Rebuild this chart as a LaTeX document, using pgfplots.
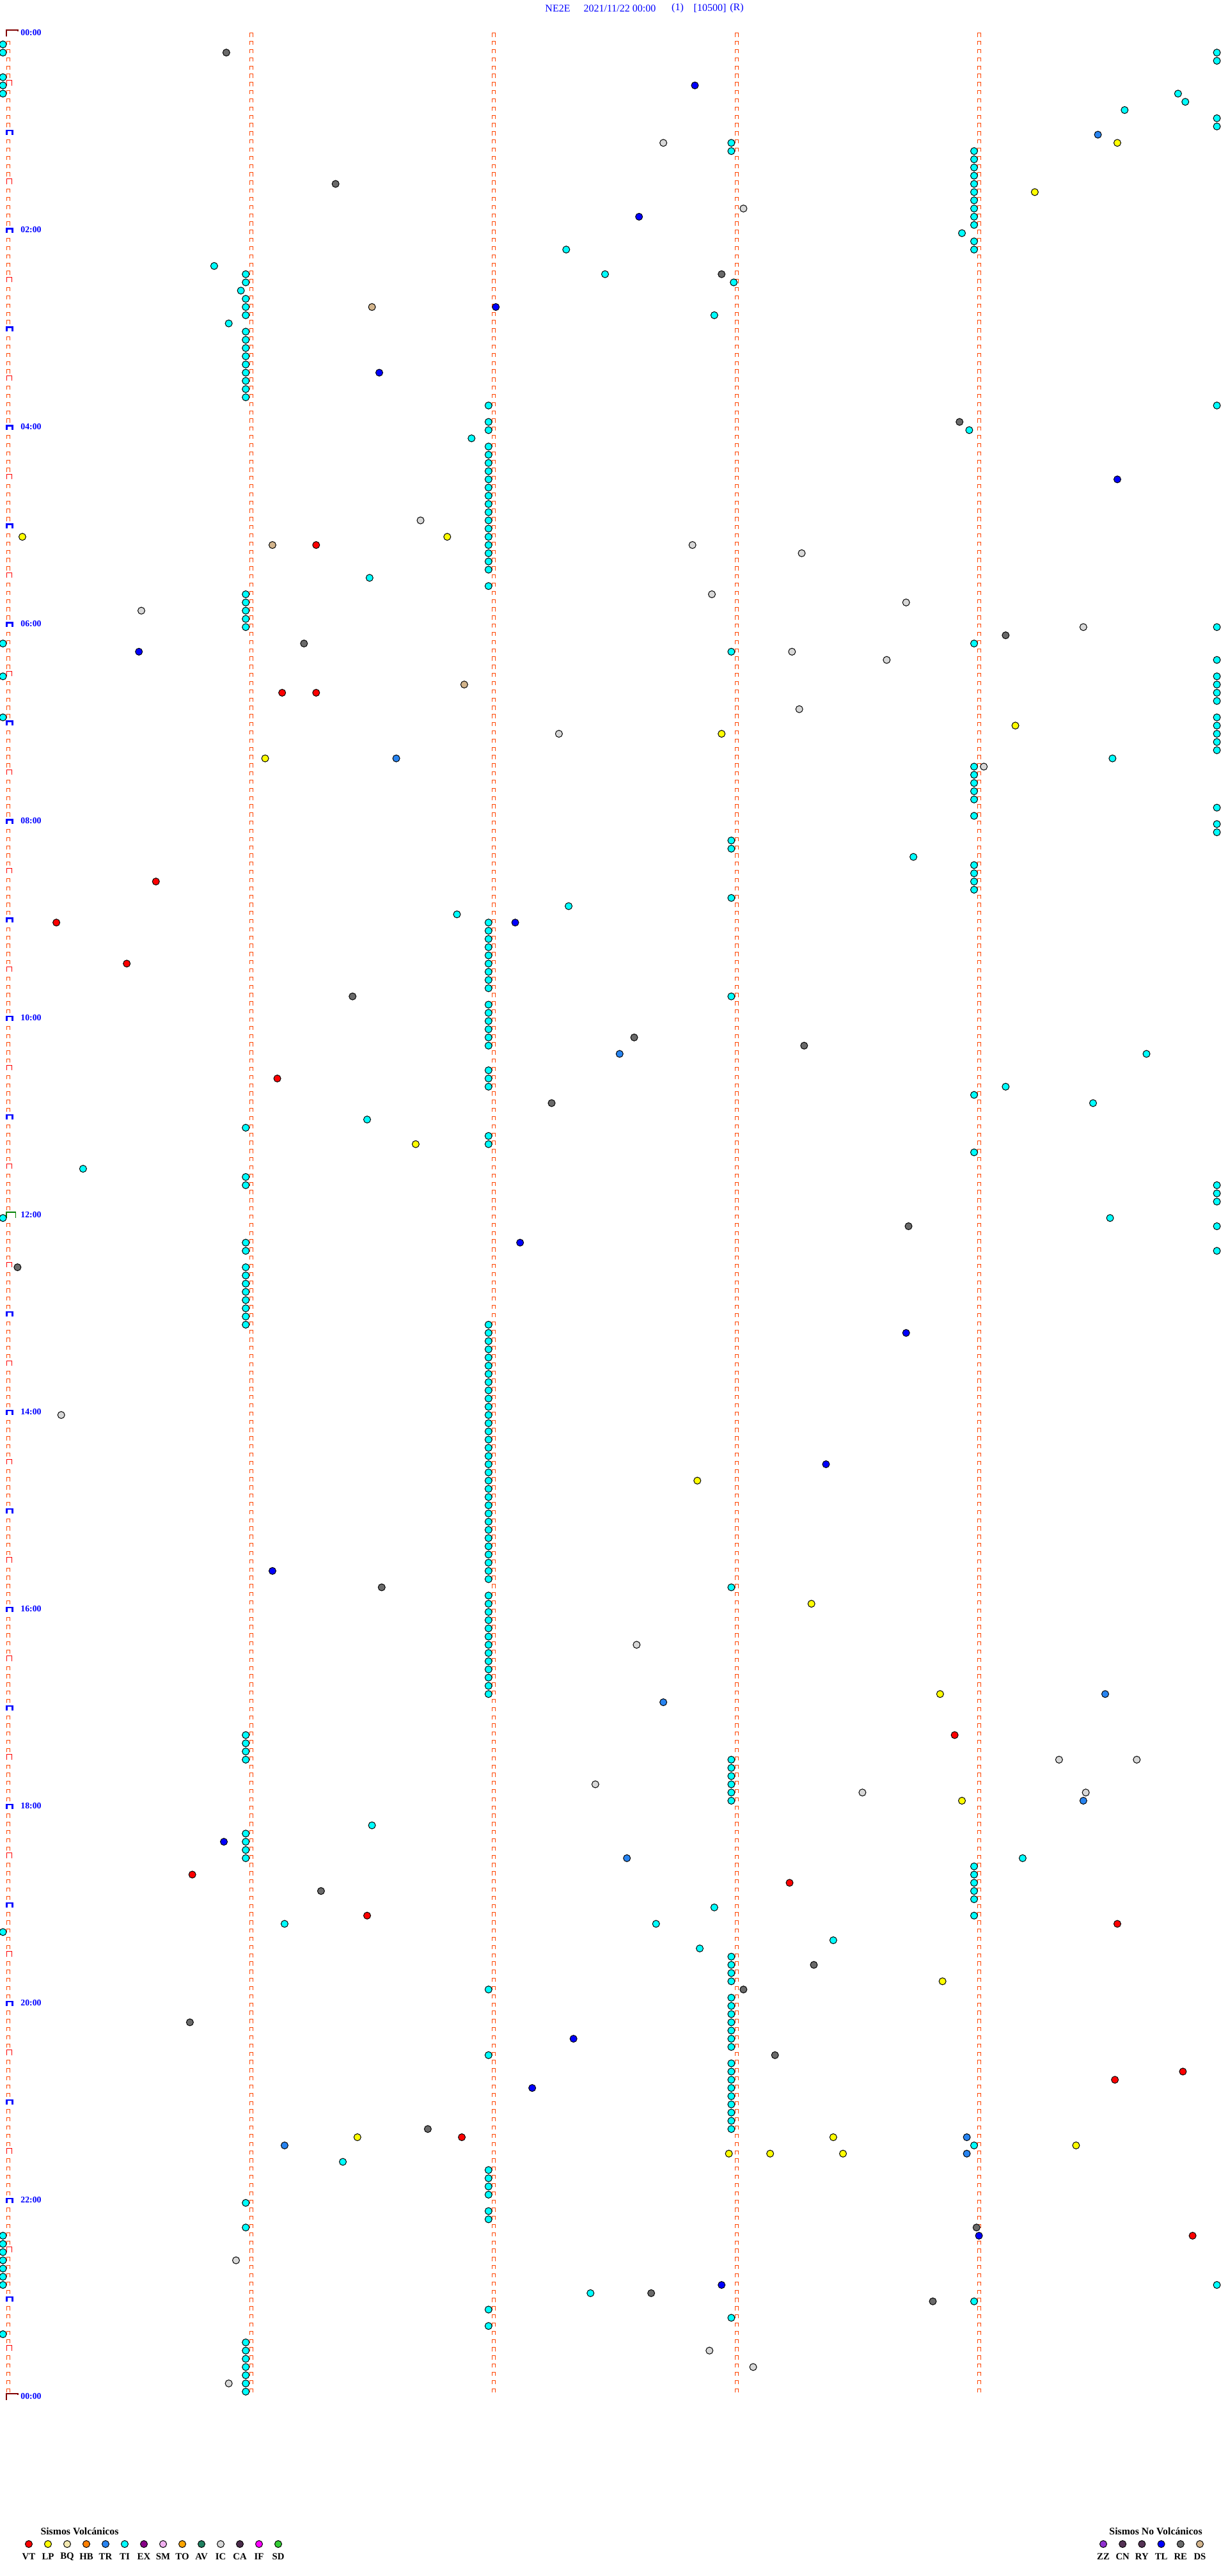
\documentclass[border=0pt]{standalone}
\usepackage{fontspec}
\setmainfont{Liberation Serif}
\usepackage{pgfplots}
\pgfplotsset{compat=1.18}
\definecolor{gridc}{HTML}{FF4500}
\definecolor{cVT}{HTML}{FF0000}
\definecolor{cLP}{HTML}{FFFF00}
\definecolor{cBQ}{HTML}{F3E9B0}
\definecolor{cHB}{HTML}{FF8000}
\definecolor{cTR}{HTML}{2884F0}
\definecolor{cTI}{HTML}{00FFFF}
\definecolor{cEX}{HTML}{880088}
\definecolor{cSM}{HTML}{F0B0F0}
\definecolor{cTO}{HTML}{FFA500}
\definecolor{cAV}{HTML}{208060}
\definecolor{cIC}{HTML}{D8D8D8}
\definecolor{cCA}{HTML}{4B2C4B}
\definecolor{cIF}{HTML}{FF00FF}
\definecolor{cSD}{HTML}{33CC33}
\definecolor{cZZ}{HTML}{9030D0}
\definecolor{cCN}{HTML}{553355}
\definecolor{cRY}{HTML}{553355}
\definecolor{cTL}{HTML}{0000FF}
\definecolor{cRE}{HTML}{6A6A6A}
\definecolor{cDS}{HTML}{D2B48C}
\definecolor{darkred}{HTML}{800000}
\definecolor{lblue}{HTML}{0000FF}
\definecolor{hgreen}{HTML}{008000}
\pgfplotsset{
  ev/.style={only marks, mark=*, mark size=2.75pt, mark options={draw=black, line width=0.5pt, fill=#1}},
  lg/.style={only marks, mark=*, mark size=2.75pt, mark options={draw=black, line width=0.5pt, fill=#1}},
}
\begin{document}
\begin{tikzpicture}
% x: minute within the 5-minute line; y: start of the line, minutes after 00:00
\begin{axis}[at={(0pt,0pt)}, anchor=north west,
  x=189.8pt, y=1.283pt, y dir=reverse,
  xmin=-0.03214, xmax=5.02582, ymin=-22.02, ymax=1547.35,
  axis line style={draw=none}, tick style={draw=none},
  xtick=\empty,
  ytick={0,120,...,1440},
  yticklabels={00:00,02:00,04:00,06:00,08:00,10:00,12:00,14:00,16:00,18:00,20:00,22:00,00:00},
  yticklabel style={anchor=west, inner sep=0pt, xshift=16pt, yshift=2.6pt,
    font=\bfseries\fontsize{6.9pt}{8pt}\selectfont, text=lblue},
  clip=false]
% minute marks of every line
\pgfplotsinvokeforeach{0,1,2,3,4}{
  \draw[gridc, line width=0.5pt, dash pattern=on 3.15pt off 3.265pt] ([xshift=-0.85pt]axis cs:#1,-2.03) -- ([xshift=-0.85pt]axis cs:#1,1436);
  \draw[gridc, line width=0.5pt, dash pattern=on 3.15pt off 3.265pt] ([xshift=1.65pt]axis cs:#1,-2.03) -- ([xshift=1.65pt]axis cs:#1,1436);
  \draw[gridc, line width=3pt, dash pattern=on 0.5pt off 5.915pt] ([xshift=0.4pt]axis cs:#1,-2.03) -- ([xshift=0.4pt]axis cs:#1,1436);
}
% half hours
\pgfplotsinvokeforeach{30,90,...,1410}{
  \fill[white] ([xshift=-1.3pt,yshift=-0.7pt]axis cs:0,#1) rectangle ([xshift=2.1pt,yshift=2.8pt]axis cs:0,#1);
  \draw[red, line width=0.5pt] ([xshift=-0.85pt]axis cs:0,#1) -- ([xshift=-0.85pt,yshift=4pt]axis cs:0,#1)
     -- ([xshift=3pt,yshift=4pt]axis cs:0,#1) -- ([xshift=3pt]axis cs:0,#1);
}
% hours
\pgfplotsinvokeforeach{60,120,...,660,780,840,...,1380}{
  \fill[white] ([xshift=-1.3pt,yshift=-0.7pt]axis cs:0,#1) rectangle ([xshift=2.1pt,yshift=2.8pt]axis cs:0,#1);
  \draw[lblue, line width=1.15pt] ([xshift=-0.9pt]axis cs:0,#1) -- ([xshift=-0.9pt,yshift=3.43pt]axis cs:0,#1)
     -- ([xshift=3.65pt,yshift=3.43pt]axis cs:0,#1) -- ([xshift=3.65pt]axis cs:0,#1);
}
% noon
\fill[white] ([xshift=-1.3pt,yshift=-0.7pt]axis cs:0,720) rectangle ([xshift=2.1pt,yshift=2.8pt]axis cs:0,720);
\draw[hgreen, line width=0.85pt] ([xshift=-1.05pt]axis cs:0,720) -- ([xshift=-1.05pt,yshift=4.58pt]axis cs:0,720)
   -- ([xshift=6.1pt,yshift=4.58pt]axis cs:0,720) -- ([xshift=6.1pt]axis cs:0,720);
% start and end of the day
\pgfplotsinvokeforeach{0,1440}{
  \fill[white] ([xshift=-1.3pt,yshift=-0.7pt]axis cs:0,#1) rectangle ([xshift=2.1pt,yshift=2.8pt]axis cs:0,#1);
  \draw[darkred, line width=1pt] ([xshift=-1pt,yshift=-0.25pt]axis cs:0,#1) -- ([xshift=-1pt,yshift=4.75pt]axis cs:0,#1)
     -- ([xshift=8pt,yshift=4.75pt]axis cs:0,#1) -- ([xshift=8pt,yshift=3.75pt]axis cs:0,#1);
}
% TI
\addplot[ev=cTI] coordinates {
(-0.02,5) (-0.02,10) (-0.02,25) (-0.02,30) (-0.02,35) (-0.02,370) (-0.02,390) (-0.02,415) (-0.02,720) (-0.02,1155)
(-0.02,1340) (-0.02,1345) (-0.02,1350) (-0.02,1355) (-0.02,1360) (-0.02,1365) (-0.02,1370) (-0.02,1400)
(4.98,10) (4.98,15) (4.98,50) (4.98,55) (4.98,225) (4.98,360) (4.98,380) (4.98,390) (4.98,395) (4.98,400) (4.98,405)
(4.98,415) (4.98,420) (4.98,425) (4.98,430) (4.98,435) (4.98,470) (4.98,480) (4.98,485) (4.98,700) (4.98,705) (4.98,710)
(4.98,725) (4.98,740) (4.98,1370) (4.82,35) (4.85,40) (4.60,45)
(2.98,65) (2.98,70) (2.99,150) (2.98,375) (2.98,490) (2.98,495) (2.98,525) (2.98,585) (2.98,945)
(2.98,1050) (2.98,1055) (2.98,1060) (2.98,1065) (2.98,1070) (2.98,1075)
(2.98,1170) (2.98,1175) (2.98,1180) (2.98,1185) (2.98,1195) (2.98,1200) (2.98,1205) (2.98,1210) (2.98,1215) (2.98,1220) (2.98,1225)
(2.98,1235) (2.98,1240) (2.98,1245) (2.98,1250) (2.98,1255) (2.98,1260) (2.98,1265) (2.98,1270) (2.98,1275) (2.98,1390)
(3.98,70) (3.98,75) (3.98,80) (3.98,85) (3.98,90) (3.98,95) (3.98,100) (3.98,105) (3.98,110) (3.98,115) (3.93,120) (3.98,125) (3.98,130)
(3.96,240) (3.98,370) (3.98,445) (3.98,450) (3.98,455) (3.98,460) (3.98,465) (3.98,475) (3.98,505) (3.98,510) (3.98,515) (3.98,520)
(3.98,645) (3.98,680) (3.98,1115) (3.98,1120) (3.98,1125) (3.98,1130) (3.98,1135) (3.98,1145) (3.98,1285) (3.98,1380)
(1.98,225) (1.98,235) (1.98,240) (1.91,245) (1.98,250) (1.98,255) (1.98,260) (1.98,265) (1.98,270) (1.98,275) (1.98,280) (1.98,285)
(1.98,290) (1.98,295) (1.98,300) (1.98,305) (1.98,310) (1.98,315) (1.98,320) (1.98,325) (1.98,335)
(1.98,540) (1.98,545) (1.98,550) (1.98,555) (1.98,560) (1.98,565) (1.98,570) (1.98,575) (1.98,580)
(1.98,590) (1.98,595) (1.98,600) (1.98,605) (1.98,610) (1.98,615) (1.98,630) (1.98,635) (1.98,640) (1.98,670) (1.98,675)
(1.98,785) (1.98,790) (1.98,795) (1.98,800) (1.98,805) (1.98,810) (1.98,815) (1.98,820) (1.98,825) (1.98,830) (1.98,835)
(1.98,840) (1.98,845) (1.98,850) (1.98,855) (1.98,860) (1.98,865) (1.98,870) (1.98,875) (1.98,880) (1.98,885) (1.98,890)
(1.98,895) (1.98,900) (1.98,905) (1.98,910) (1.98,915) (1.98,920) (1.98,925) (1.98,930) (1.98,935) (1.98,940)
(1.98,950) (1.98,955) (1.98,960) (1.98,965) (1.98,970) (1.98,975) (1.98,980) (1.98,985) (1.98,990) (1.98,995) (1.98,1000)
(1.98,1005) (1.98,1010) (1.98,1190) (1.98,1230) (1.98,1300) (1.98,1305) (1.98,1310) (1.98,1315) (1.98,1325) (1.98,1330)
(1.98,1385) (1.98,1395)
(0.85,140) (0.98,145) (0.98,150) (0.96,155) (0.98,160) (0.98,165) (0.98,170) (0.91,175) (0.98,180) (0.98,185) (0.98,190)
(0.98,195) (0.98,200) (0.98,205) (0.98,210) (0.98,215) (0.98,220) (0.98,340) (0.98,345) (0.98,350) (0.98,355) (0.98,360)
(0.98,665) (0.98,695) (0.98,700) (0.98,735) (0.98,740) (0.98,750) (0.98,755) (0.98,760) (0.98,765) (0.98,770) (0.98,775)
(0.98,780) (0.98,785) (0.98,1035) (0.98,1040) (0.98,1045) (0.98,1050) (0.98,1095) (0.98,1100) (0.98,1105) (0.98,1110)
(0.98,1320) (0.98,1335) (0.98,1405) (0.98,1410) (0.98,1415) (0.98,1420) (0.98,1425) (0.98,1430) (0.98,1435)
(2.30,130) (2.46,145) (2.91,170) (1.49,330) (4.55,440) (3.73,500) (2.31,530) (1.85,535) (4.69,620) (4.11,640)
(4.47,650) (1.48,660) (0.31,690) (4.54,720) (1.50,1090) (4.18,1110) (2.91,1140) (1.14,1150) (2.67,1150) (3.40,1160)
(2.85,1165) (1.38,1295) (2.40,1375)
};
% RE
\addplot[ev=cRE] coordinates {
(0.90,10) (1.35,90) (2.94,145) (3.92,235) (4.11,365) (1.22,370) (1.42,585) (2.58,610) (3.28,615) (2.24,650) (3.71,725)
(0.04,750) (1.54,945) (1.29,1130) (3.32,1175) (3.03,1190) (0.75,1210) (3.16,1230) (1.73,1275) (3.99,1335) (2.65,1375) (3.81,1380)
};
% TL
\addplot[ev=cTL] coordinates {
(2.83,30) (2.60,110) (2.01,165) (1.53,205) (4.57,270) (0.54,375) (2.09,540) (2.11,735) (3.70,790) (3.37,870) (1.09,935)
(0.89,1100) (2.33,1220) (2.16,1250) (4.00,1340) (2.94,1370)
};
% IC
\addplot[ev=cIC] coordinates {
(2.70,65) (3.03,105) (1.70,295) (2.82,310) (3.27,315) (2.90,340) (3.70,345) (0.55,350) (4.43,360) (3.23,375) (3.62,380)
(3.26,410) (2.27,425) (4.02,445) (0.22,840) (2.59,980) (4.33,1050) (4.65,1050) (2.42,1065) (3.52,1070) (4.44,1070)
(0.94,1355) (2.89,1410) (3.07,1420) (0.91,1430)
};
% LP
\addplot[ev=cLP] coordinates {
(4.57,65) (4.23,95) (0.06,305) (1.81,305) (4.15,420) (2.94,425) (1.06,440) (1.68,675) (2.84,880) (3.31,955) (3.84,1010)
(3.93,1075) (3.85,1185) (1.44,1280) (3.40,1280) (4.40,1285) (2.97,1290) (3.14,1290) (3.44,1290)
};
% VT
\addplot[ev=cVT] coordinates {
(1.27,310) (1.13,400) (1.27,400) (0.61,515) (0.20,540) (0.49,565) (1.11,635) (3.90,1035) (0.76,1120) (3.22,1125)
(1.48,1145) (4.57,1150) (4.84,1240) (4.56,1245) (1.87,1280) (4.88,1340)
};
% DS
\addplot[ev=cDS] coordinates {(1.50,165) (1.09,310) (1.88,395)};
% TR
\addplot[ev=cTR] coordinates {
(4.49,60) (1.60,440) (2.52,620) (4.52,1010) (2.70,1015) (4.43,1075) (2.55,1110) (3.95,1280) (1.14,1285) (3.95,1290)
};
\end{axis}
% legend: volcanic events
\begin{axis}[at={(22.5pt,-1988.5pt)}, anchor=origin,
  x=15pt, y=10pt, xmin=-0.6, xmax=13.6, ymin=-1, ymax=1,
  axis line style={draw=none}, tick style={draw=none}, ytick=\empty,
  xtick={0,...,13},
  xticklabels={VT,LP,BQ,HB,TR,TI,EX,SM,TO,AV,IC,CA,IF,SD},
  xticklabel style={anchor=center, inner sep=0pt, font=\bfseries\fontsize{7.4pt}{8pt}\selectfont},
  title={Sismos Volcánicos},
  title style={at={(0.2289,1)}, anchor=center, inner sep=0pt, yshift=-6pt, font=\bfseries\fontsize{7.9pt}{9pt}\selectfont},
  clip=false]
\addplot[lg=cVT] coordinates {(0,0)};
\addplot[lg=cLP] coordinates {(1,0)};
\addplot[lg=cBQ] coordinates {(2,0)};
\addplot[lg=cHB] coordinates {(3,0)};
\addplot[lg=cTR] coordinates {(4,0)};
\addplot[lg=cTI] coordinates {(5,0)};
\addplot[lg=cEX] coordinates {(6,0)};
\addplot[lg=cSM] coordinates {(7,0)};
\addplot[lg=cTO] coordinates {(8,0)};
\addplot[lg=cAV] coordinates {(9,0)};
\addplot[lg=cIC] coordinates {(10,0)};
\addplot[lg=cCA] coordinates {(11,0)};
\addplot[lg=cIF] coordinates {(12,0)};
\addplot[lg=cSD] coordinates {(13,0)};
\end{axis}
% legend: non-volcanic events
\begin{axis}[at={(862.5pt,-1988.5pt)}, anchor=origin,
  x=15.1pt, y=10pt, xmin=-0.6, xmax=5.6, ymin=-1, ymax=1,
  axis line style={draw=none}, tick style={draw=none}, ytick=\empty,
  xtick={0,...,5},
  xticklabels={ZZ,CN,RY,TL,RE,DS},
  xticklabel style={anchor=center, inner sep=0pt, font=\bfseries\fontsize{7.4pt}{8pt}\selectfont},
  title={Sismos No Volcánicos},
  title style={at={(0.535,1)}, anchor=center, inner sep=0pt, yshift=-6pt, font=\bfseries\fontsize{7.9pt}{9pt}\selectfont},
  clip=false]
\addplot[lg=cZZ] coordinates {(0,0)};
\addplot[lg=cCN] coordinates {(1,0)};
\addplot[lg=cRY] coordinates {(2,0)};
\addplot[lg=cTL] coordinates {(3,0)};
\addplot[lg=cRE] coordinates {(4,0)};
\addplot[lg=cDS] coordinates {(5,0)};
\end{axis}
\begin{scope}[x=0.5pt, y=-0.5pt]
\node[text=lblue, inner sep=0pt, font=\fontsize{8pt}{9pt}\selectfont] at (872,13) {NE2E};
\node[text=lblue, inner sep=0pt, font=\fontsize{8pt}{9pt}\selectfont] at (969,13) {2021/11/22 00:00};
\node[text=lblue, inner sep=0pt, font=\fontsize{8pt}{9pt}\selectfont] at (1059.5,13) {(1)};
\node[text=lblue, inner sep=0pt, font=\fontsize{8pt}{9pt}\selectfont] at (1110,13) {[10500]};
\node[text=lblue, inner sep=0pt, font=\fontsize{8pt}{9pt}\selectfont] at (1152,13) {(R)};
\end{scope}
\pgfresetboundingbox
\path (0pt,0pt) rectangle (960pt,-2013.5pt);
\end{tikzpicture}
\end{document}
